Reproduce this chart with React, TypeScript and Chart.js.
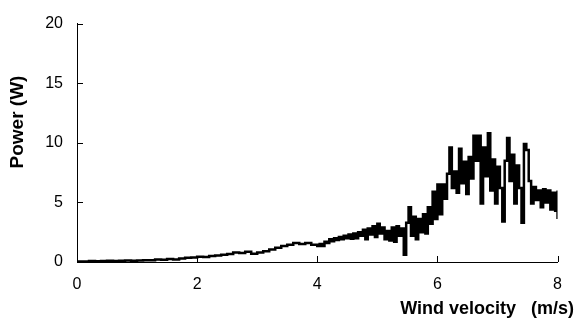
import React, { useEffect, useRef } from "react";
import { Chart, registerables } from "chart.js";

Chart.register(...registerables);

const xTitle = "Wind velocity   (m/s)";
const yTitle = "Power (W)";
const xTickValues = [0, 2, 4, 6, 8];
const yTickValues = [0, 5, 10, 15, 20];

// Wind velocity (m/s)
const velocity = [
  0.0, 0.1, 0.2, 0.3, 0.4, 0.5, 0.6, 0.7, 0.8, 0.9,
  1.0, 1.1, 1.2, 1.3, 1.4, 1.5, 1.6, 1.7, 1.8, 1.9,
  2.0, 2.1, 2.2, 2.3, 2.4, 2.5, 2.6, 2.7, 2.8, 2.9,
  3.0, 3.1, 3.2, 3.3, 3.4, 3.5, 3.6, 3.7, 3.8, 3.9,
  4.0, 4.04, 4.08, 4.12, 4.16, 4.2, 4.24, 4.28, 4.32, 4.36,
  4.4, 4.44, 4.48, 4.52, 4.56, 4.6, 4.64, 4.68, 4.72, 4.76,
  4.8, 4.84, 4.88, 4.92, 4.96, 5.0, 5.04, 5.08, 5.12, 5.16,
  5.2, 5.24, 5.28, 5.32, 5.36, 5.4, 5.44, 5.48, 5.52, 5.56,
  5.6, 5.64, 5.68, 5.72, 5.76, 5.8, 5.84, 5.88, 5.92, 5.96,
  6.0, 6.04, 6.08, 6.12, 6.16, 6.2, 6.24, 6.28, 6.32, 6.36,
  6.4, 6.44, 6.48, 6.52, 6.56, 6.6, 6.64, 6.68, 6.72, 6.76,
  6.8, 6.84, 6.88, 6.92, 6.96, 7.0, 7.04, 7.08, 7.12, 7.16,
  7.2, 7.24, 7.28, 7.32, 7.36, 7.4, 7.44, 7.48, 7.52, 7.56,
  7.6, 7.64, 7.68, 7.72, 7.76, 7.8, 7.84, 7.88, 7.92, 7.96,
  8.0, 8.0,
];

// Power (W)
const power = [
  0.05, 0.05, 0.08, 0.06, 0.08, 0.1, 0.08, 0.1, 0.12, 0.1,
  0.12, 0.15, 0.14, 0.2, 0.18, 0.25, 0.22, 0.3, 0.35, 0.38,
  0.45, 0.42, 0.5, 0.55, 0.6, 0.68, 0.8, 0.75, 0.85, 0.7,
  0.8, 0.9, 1.05, 1.2, 1.35, 1.45, 1.6, 1.5, 1.6, 1.45,
  1.35, 1.5, 1.35, 1.7, 1.6, 1.9, 1.75, 2.0, 1.85, 2.1,
  1.9, 2.2, 2.0, 2.3, 1.95, 2.4, 2.0, 2.5, 2.2, 2.7,
  1.9, 2.8, 2.3, 3.0, 2.1, 3.2, 2.4, 2.9, 1.9, 2.6,
  1.8, 2.9, 1.7, 3.0, 2.2, 2.8, 0.6, 3.3, 4.6, 2.2,
  3.8, 1.9, 3.6, 2.5, 4.0, 2.4, 4.6, 3.2, 5.9, 3.6,
  6.5, 4.0, 6.5, 5.3, 7.4, 9.6, 6.2, 7.6, 5.8, 9.5,
  6.6, 8.4, 5.7, 8.8, 7.0, 10.6, 8.5, 10.6, 4.9, 9.6,
  7.2, 10.8, 6.0, 8.6, 4.9, 8.0, 6.2, 3.4, 8.5, 10.4,
  6.8, 9.0, 4.9, 8.1, 6.2, 3.3, 9.9, 9.4, 6.8, 4.9,
  6.3, 5.2, 6.0, 4.6, 6.1, 5.0, 6.0, 4.4, 5.8, 4.3,
  6.0, 3.6,
];

const FONT = "'Liberation Sans', Arial, sans-serif";

const decorPlugin = {
  id: "decor",
  afterDraw(chart: any) {
    const { ctx, chartArea, scales } = chart;
    const xs = scales.x;
    const ys = scales.y;
    ctx.save();
    ctx.strokeStyle = "#000";
    ctx.lineWidth = 1;
    ctx.beginPath();
    for (const v of yTickValues) {
      const py = Math.round(ys.getPixelForValue(v)) + 0.5;
      ctx.moveTo(chartArea.left, py);
      ctx.lineTo(chartArea.left + 6, py);
    }
    for (const v of xTickValues) {
      const px = Math.round(xs.getPixelForValue(v)) + 0.5;
      ctx.moveTo(px, chartArea.bottom);
      ctx.lineTo(px, chartArea.bottom - 6);
    }
    ctx.stroke();

    ctx.fillStyle = "#000";
    ctx.font = `bold 18px ${FONT}`;
    ctx.textAlign = "right";
    ctx.textBaseline = "middle";
    ctx.fillText(xTitle, 574, 309);

    ctx.translate(18, 122);
    ctx.rotate(-Math.PI / 2);
    ctx.textAlign = "center";
    ctx.font = `bold 19px ${FONT}`;
    ctx.fillText(yTitle, 0, 0);
    ctx.restore();
  },
};

export default function App() {
  const ref = useRef<HTMLCanvasElement | null>(null);

  useEffect(() => {
    if (!ref.current) return;
    const points = velocity.map((v, i) => ({ x: v, y: power[i] }));
    const chart = new Chart(ref.current, {
      type: "line",
      data: {
        datasets: [
          {
            data: points,
            borderColor: "#000",
            borderWidth: 2.5,
            pointRadius: 0,
            stepped: true,
            fill: false,
          },
        ],
      },
      options: {
        animation: false,
        responsive: false,
        maintainAspectRatio: false,
        layout: { padding: { top: 8.4, right: 3.6, left: 0, bottom: 0 } },
        plugins: {
          legend: { display: false },
          tooltip: { enabled: false },
          title: { display: false },
        },
        scales: {
          x: {
            type: "linear",
            min: 0,
            max: 8,
            afterFit: (s: any) => {
              s.height = 58;
            },
            afterBuildTicks: (s: any) => {
              s.ticks = xTickValues.map((v) => ({ value: v }));
            },
            grid: { display: false, drawTicks: false },
            border: { display: true, color: "#000", width: 1 },
            ticks: {
              padding: 13,
              color: "#000",
              font: { family: FONT, size: 16 },
              maxRotation: 0,
            },
          },
          y: {
            type: "linear",
            min: 0,
            max: 20,
            afterFit: (s: any) => {
              s.width = 77;
            },
            afterBuildTicks: (s: any) => {
              s.ticks = yTickValues.map((v) => ({ value: v }));
            },
            grid: { display: false, drawTicks: false },
            border: { display: true, color: "#000", width: 1 },
            ticks: {
              padding: 14,
              color: "#000",
              font: { family: FONT, size: 16 },
            },
          },
        },
      },
      plugins: [decorPlugin],
    });
    return () => chart.destroy();
  }, []);

  return (
    <div style={{ position: "fixed", left: 0, top: 0, width: 575, height: 320 }}>
      <canvas ref={ref} width={575} height={320} style={{ width: 575, height: 320 }} />
    </div>
  );
}
